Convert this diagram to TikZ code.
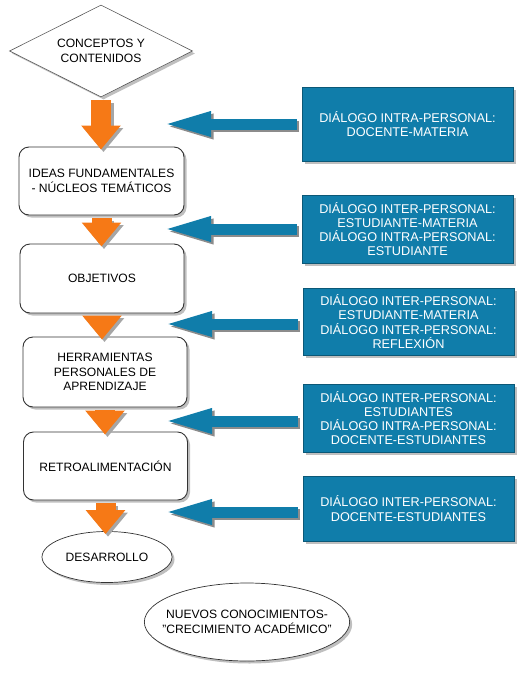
\documentclass[tikz,border=0pt]{standalone}
\usepackage{fontspec}
\setmainfont{Liberation Sans}
\usetikzlibrary{shapes.geometric,shadows,arrows.meta}
\definecolor{dlblue}{RGB}{16,125,170}
\definecolor{dlorange}{RGB}{246,121,22}
\newcommand{\lf}{\fontsize{12.1}{14.5}\selectfont}
\newcommand{\df}{\fontsize{12.7}{14.2}\selectfont}
\tikzset{
  shd/.style={drop shadow={shadow xshift=2.5pt,shadow yshift=-2.5pt,opacity=.5}},
  etapa/.style={draw=black!80,line width=.9pt,fill=white,rounded corners=10pt,shd,
    align=center,font=\lf,minimum width=164pt,minimum height=68pt},
  dialogo/.style={draw=dlblue!70!black,line width=.6pt,fill=dlblue,text=white,shd,
    align=center,font=\df,minimum width=211pt},
  ovalo/.style={ellipse,draw=black!80,line width=.7pt,fill=white,shd,align=center,font=\lf},
  naranja/.style={line width=20pt,draw=dlorange,-{Triangle[length=24pt,width=38pt]}},
  azul/.style={line width=11pt,draw=dlblue,-{Triangle[length=50pt,width=22pt]}}
}
\begin{document}
\begin{tikzpicture}[x=1pt,y=-1pt]
\useasboundingbox (0,0) rectangle (530,675);
\node[diamond,aspect=2,draw=black!65,line width=.6pt,fill=white,shd,inner sep=0pt,
  minimum width=183pt,minimum height=92pt,align=center,font=\lf] (conc) at (101,51) {CONCEPTOS Y\\CONTENIDOS};
\node[etapa,minimum width=165pt] (ideas) at (101.5,181) {IDEAS FUNDAMENTALES\\- NÚCLEOS TEMÁTICOS};
\node[etapa,minimum height=69pt] (obj) at (102,278.5) {OBJETIVOS};
\node[etapa,minimum height=70pt] (herr) at (105,372) {HERRAMIENTAS\\PERSONALES DE\\APRENDIZAJE};
\node[etapa] (retro) at (105.5,466) {RETROALIMENTACIÓN};
\node[ovalo,minimum width=130pt,minimum height=51pt] (desa) at (107,557) {DESARROLLO};
\node[ovalo,inner xsep=-12pt,inner ysep=12pt,minimum width=193pt,minimum height=78pt] (nuevos) at (247,622) {NUEVOS CONOCIMIENTOS-\\"CRECIMIENTO ACADÉMICO"};

\node[dialogo,minimum height=74pt] (d1) at (407.5,124) {DIÁLOGO INTRA-PERSONAL:\\DOCENTE-MATERIA};
\node[dialogo,minimum height=68pt] (d2) at (407.5,229) {DIÁLOGO INTER-PERSONAL:\\ESTUDIANTE-MATERIA\\DIÁLOGO INTRA-PERSONAL:\\ESTUDIANTE};
\node[dialogo,minimum height=67pt] (d3) at (408.5,321.5) {DIÁLOGO INTER-PERSONAL:\\ESTUDIANTE-MATERIA\\DIÁLOGO INTER-PERSONAL:\\REFLEXIÓN};
\node[dialogo,minimum height=68pt] (d4) at (408.5,418) {DIÁLOGO INTER-PERSONAL:\\ESTUDIANTES\\DIÁLOGO INTRA-PERSONAL:\\DOCENTE-ESTUDIANTES};
\node[dialogo,minimum height=65pt] (d5) at (408.5,508.5) {DIÁLOGO INTER-PERSONAL:\\DOCENTE-ESTUDIANTES};

% flechas del proceso
\foreach \a/\b in {conc/ideas,ideas/obj,obj/herr,herr/retro,retro/desa}{
  \draw[naranja,draw=black!35,transform canvas={shift={(2.5pt,-2.5pt)}}] ([yshift=-3pt]\a.south) -- ([yshift=-3pt]\a.south |- \b.north);
  \draw[naranja] ([yshift=-3pt]\a.south) -- ([yshift=-3pt]\a.south |- \b.north);
}
% flechas de dialogo
\coordinate (t1) at (161,124);
\coordinate (t2) at (161,229);
\coordinate (t3) at (162,324);
\coordinate (t4) at (162,421);
\coordinate (t5) at (162,512);
\foreach \i in {1,...,5}{
  \draw[azul,draw=black!45,transform canvas={shift={(2.5pt,-2.5pt)}}] (d\i.west |- t\i) ++(-5,0) -- (t\i);
  \draw[azul] (d\i.west |- t\i) ++(-5,0) -- (t\i);
}
\end{tikzpicture}
\end{document}
